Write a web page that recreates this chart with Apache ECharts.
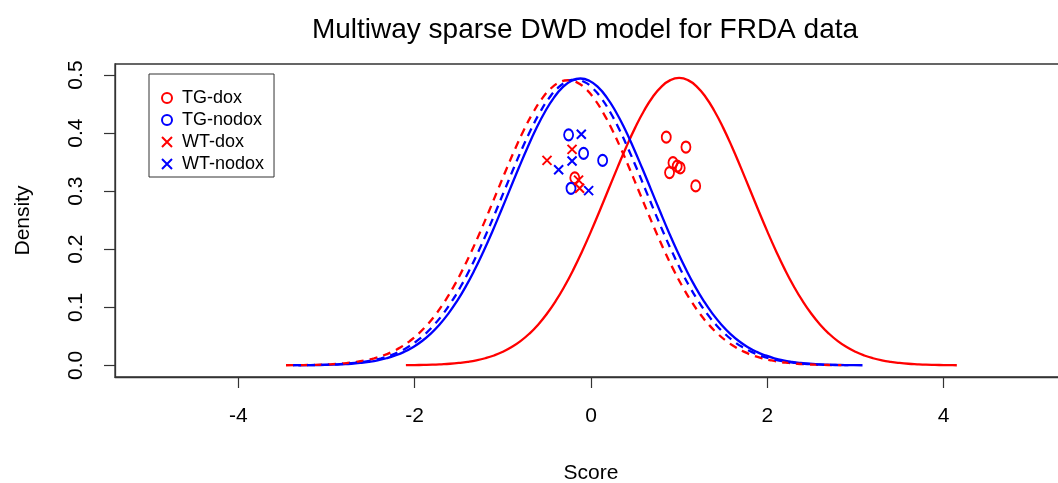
<!DOCTYPE html>
<html>
<head>
<meta charset="utf-8">
<style>
  html, body { margin: 0; padding: 0; background: #ffffff; }
  #chart { width: 1058px; height: 483px; }
</style>
<script src="https://cdn.jsdelivr.net/npm/echarts@6/dist/echarts.min.js"></script>
</head>
<body>
<div id="chart"></div>
<script>
// Fitted score densities, one curve per group
const tgDoxCurveX = [-2.1, -2.0, -1.9, -1.8, -1.7, -1.6, -1.5, -1.4, -1.3, -1.2, -1.1, -1.0, -0.9, -0.8, -0.7, -0.6,
  -0.5, -0.4, -0.3, -0.2, -0.1, 0.0, 0.1, 0.2, 0.3, 0.4, 0.5, 0.6, 0.7, 0.8, 0.9, 1.0, 1.1, 1.2, 1.3, 1.4, 1.5, 1.6,
  1.7, 1.8, 1.9, 2.0, 2.1, 2.2, 2.3, 2.4, 2.5, 2.6, 2.7, 2.8, 2.9, 3.0, 3.1, 3.2, 3.3, 3.4, 3.5, 3.6, 3.7, 3.8, 3.9,
  4.0, 4.1, 4.15];
const tgDoxCurveY = [0.0003, 0.0005, 0.0008, 0.0012, 0.0019, 0.0028, 0.0042, 0.0061, 0.0087, 0.0123, 0.0171, 0.0234,
  0.0315, 0.0417, 0.0545, 0.0701, 0.0889, 0.1109, 0.1363, 0.1649, 0.1966, 0.2307, 0.2667, 0.3037, 0.3405, 0.3761,
  0.4090, 0.4381, 0.4621, 0.4801, 0.4912, 0.4950, 0.4912, 0.4801, 0.4621, 0.4381, 0.4090, 0.3761, 0.3405, 0.3037,
  0.2667, 0.2307, 0.1966, 0.1649, 0.1363, 0.1109, 0.0889, 0.0701, 0.0545, 0.0417, 0.0315, 0.0234, 0.0171, 0.0123,
  0.0087, 0.0061, 0.0042, 0.0028, 0.0019, 0.0012, 0.0008, 0.0005, 0.0003, 0.0002];

const tgNodoxCurveX = [-3.32, -3.22, -3.12, -3.02, -2.92, -2.82, -2.72, -2.62, -2.52, -2.42, -2.32, -2.22, -2.12,
  -2.02, -1.92, -1.82, -1.72, -1.62, -1.52, -1.42, -1.32, -1.22, -1.12, -1.02, -0.92, -0.82, -0.72, -0.62, -0.52,
  -0.42, -0.32, -0.22, -0.12, -0.02, 0.08, 0.18, 0.28, 0.38, 0.48, 0.58, 0.68, 0.78, 0.88, 0.98, 1.08, 1.18, 1.28,
  1.38, 1.48, 1.58, 1.68, 1.78, 1.88, 1.98, 2.08, 2.18, 2.28, 2.38, 2.48, 2.58, 2.68, 2.78, 2.88, 2.98, 3.08];
const tgNodoxCurveY = [0.0002, 0.0003, 0.0005, 0.0008, 0.0012, 0.0019, 0.0028, 0.0042, 0.0061, 0.0087, 0.0123,
  0.0171, 0.0233, 0.0314, 0.0416, 0.0544, 0.0700, 0.0887, 0.1107, 0.1360, 0.1646, 0.1962, 0.2302, 0.2662, 0.3031,
  0.3398, 0.3753, 0.4082, 0.4372, 0.4612, 0.4791, 0.4902, 0.4940, 0.4902, 0.4791, 0.4612, 0.4372, 0.4082, 0.3753,
  0.3398, 0.3031, 0.2662, 0.2302, 0.1962, 0.1646, 0.1360, 0.1107, 0.0887, 0.0700, 0.0544, 0.0416, 0.0314, 0.0233,
  0.0171, 0.0123, 0.0087, 0.0061, 0.0042, 0.0028, 0.0019, 0.0012, 0.0008, 0.0005, 0.0003, 0.0002];

const wtDoxCurveX = [-3.46, -3.36, -3.26, -3.16, -3.06, -2.96, -2.86, -2.76, -2.66, -2.56, -2.46, -2.36, -2.26,
  -2.16, -2.06, -1.96, -1.86, -1.76, -1.66, -1.56, -1.46, -1.36, -1.26, -1.16, -1.06, -0.96, -0.86, -0.76, -0.66,
  -0.56, -0.46, -0.36, -0.26, -0.16, -0.06, 0.04, 0.14, 0.24, 0.34, 0.44, 0.54, 0.64, 0.74, 0.84, 0.94, 1.04, 1.14,
  1.24, 1.34, 1.44, 1.54, 1.64, 1.74, 1.84, 1.94, 2.04, 2.14, 2.24, 2.34, 2.44, 2.54, 2.64, 2.74, 2.84];
const wtDoxCurveY = [0.0002, 0.0003, 0.0005, 0.0008, 0.0012, 0.0019, 0.0028, 0.0042, 0.0060, 0.0087, 0.0122,
  0.0169, 0.0232, 0.0312, 0.0414, 0.0541, 0.0696, 0.0881, 0.1100, 0.1351, 0.1636, 0.1950, 0.2289, 0.2646, 0.3012,
  0.3378, 0.3730, 0.4057, 0.4345, 0.4584, 0.4762, 0.4873, 0.4910, 0.4873, 0.4762, 0.4584, 0.4345, 0.4057, 0.3730,
  0.3378, 0.3012, 0.2646, 0.2289, 0.1950, 0.1636, 0.1351, 0.1100, 0.0881, 0.0696, 0.0541, 0.0414, 0.0312, 0.0232,
  0.0169, 0.0122, 0.0087, 0.0060, 0.0042, 0.0028, 0.0019, 0.0012, 0.0008, 0.0005, 0.0003];

const wtNodoxCurveX = [-3.38, -3.28, -3.18, -3.08, -2.98, -2.88, -2.78, -2.68, -2.58, -2.48, -2.38, -2.28, -2.18,
  -2.08, -1.98, -1.88, -1.78, -1.68, -1.58, -1.48, -1.38, -1.28, -1.18, -1.08, -0.98, -0.88, -0.78, -0.68, -0.58,
  -0.48, -0.38, -0.28, -0.18, -0.08, 0.02, 0.12, 0.22, 0.32, 0.42, 0.52, 0.62, 0.72, 0.82, 0.92, 1.02, 1.12, 1.22,
  1.32, 1.42, 1.52, 1.62, 1.72, 1.82, 1.92, 2.02, 2.12, 2.22, 2.32, 2.42, 2.52, 2.62, 2.72, 2.82, 2.92];
const wtNodoxCurveY = [0.0002, 0.0003, 0.0005, 0.0008, 0.0012, 0.0019, 0.0028, 0.0042, 0.0061, 0.0087, 0.0122,
  0.0170, 0.0232, 0.0313, 0.0415, 0.0542, 0.0697, 0.0883, 0.1102, 0.1354, 0.1639, 0.1954, 0.2293, 0.2651, 0.3019,
  0.3385, 0.3738, 0.4065, 0.4354, 0.4593, 0.4772, 0.4883, 0.4920, 0.4883, 0.4772, 0.4593, 0.4354, 0.4065, 0.3738,
  0.3385, 0.3019, 0.2651, 0.2293, 0.1954, 0.1639, 0.1354, 0.1102, 0.0883, 0.0697, 0.0542, 0.0415, 0.0313, 0.0232,
  0.0170, 0.0122, 0.0087, 0.0061, 0.0042, 0.0028, 0.0019, 0.0012, 0.0008, 0.0005, 0.0003];

// Individual sample scores: [score, plotted height]
const tgDoxScores = [[0.854, 0.393], [1.077, 0.376], [0.930, 0.349], [0.978, 0.343], [1.012, 0.340],
  [0.891, 0.332], [1.188, 0.309], [-0.184, 0.323]];
const tgNodoxScores = [[-0.254, 0.397], [-0.084, 0.365], [0.132, 0.353], [-0.227, 0.305]];
const wtDoxScores = [[-0.499, 0.353], [-0.215, 0.372], [-0.141, 0.319], [-0.129, 0.305]];
const wtNodoxScores = [[-0.110, 0.398], [-0.367, 0.337], [-0.215, 0.352], [-0.027, 0.301]];

// Axis tick labels
const xTicks = [-4, -2, 0, 2, 4];
const yTicks = [0, 0.1, 0.2, 0.3, 0.4, 0.5];

const RED = '#ff0000';
const BLUE = '#0000ff';
const AXIS = '#333333';
const FONT = "'Liberation Sans', Arial, Helvetica, sans-serif";
const CROSS = 'path://M0,0L10,10M10,0L0,10';

function zip(xs, ys) {
  return xs.map((x, i) => [x, ys[i]]);
}

function curve(xs, ys, color, dashed) {
  return {
    type: 'line',
    data: zip(xs, ys),
    smooth: true,
    showSymbol: false,
    silent: true,
    lineStyle: { color: color, width: 2.3, type: dashed ? [8, 6] : 'solid' },
    z: 2
  };
}

function points(name, data, color, cross) {
  return {
    name: name,
    type: 'scatter',
    data: data,
    symbol: cross ? CROSS : 'circle',
    symbolSize: cross ? [9, 9] : [9, 11],
    symbolKeepAspect: false,
    itemStyle: { color: 'rgba(0,0,0,0)', borderColor: color, borderWidth: 2, opacity: 1 },
    z: 3
  };
}

const chart = echarts.init(document.getElementById('chart'), null, { renderer: 'canvas' });

chart.setOption({
  animation: false,
  backgroundColor: '#ffffff',
  textStyle: { fontFamily: FONT },
  title: {
    text: 'Multiway sparse DWD model for FRDA data',
    left: 580,
    top: 11,
    textAlign: 'center',
    textStyle: { fontFamily: FONT, fontSize: 28, fontWeight: 'normal', color: '#000000' }
  },
  legend: {
    orient: 'vertical',
    left: 149,
    top: 74,
    padding: [15, 10, 4, 12],
    itemGap: 4,
    itemWidth: 10,
    itemHeight: 10,
    borderColor: AXIS,
    borderWidth: 1,
    borderRadius: 0,
    textStyle: { fontFamily: FONT, fontSize: 18, color: '#000000', padding: [0, 0, 0, 5] },
    itemStyle: { opacity: 1 },
    data: [
      { name: 'TG-dox', icon: 'circle' },
      { name: 'TG-nodox', icon: 'circle' },
      { name: 'WT-dox', icon: CROSS },
      { name: 'WT-nodox', icon: CROSS }
    ]
  },
  grid: {
    left: 115,
    top: 64,
    width: 952,
    height: 313,
    outerBoundsMode: 'none',
    containLabel: false,
    show: true,
    borderColor: AXIS,
    borderWidth: 1.3,
    backgroundColor: 'transparent'
  },
  xAxis: {
    type: 'value',
    min: -5.4,
    max: 5.4,
    name: 'Score',
    nameLocation: 'middle',
    nameGap: 86,
    nameTextStyle: { fontFamily: FONT, fontSize: 21, color: '#000000' },
    splitLine: { show: false },
    axisLine: { show: true, onZero: false, lineStyle: { color: AXIS, width: 1.3 } },
    axisTick: { show: true, length: 11, lineStyle: { color: AXIS, width: 1.2 }, customValues: xTicks },
    axisLabel: {
      customValues: xTicks,
      margin: 29,
      fontFamily: FONT,
      fontSize: 21,
      color: '#000000',
      formatter: v => String(v)
    }
  },
  yAxis: {
    type: 'value',
    min: -0.02,
    max: 0.519,
    name: 'Density',
    nameLocation: 'middle',
    nameRotate: 90,
    nameGap: 81,
    nameTextStyle: { fontFamily: FONT, fontSize: 21, color: '#000000' },
    splitLine: { show: false },
    axisLine: { show: true, onZero: false, lineStyle: { color: AXIS, width: 1.3 } },
    axisTick: { show: true, length: 11, lineStyle: { color: AXIS, width: 1.2 }, customValues: yTicks },
    axisLabel: {
      customValues: yTicks,
      rotate: 90,
      margin: 28,
      fontFamily: FONT,
      fontSize: 21,
      color: '#000000',
      formatter: v => v.toFixed(1)
    }
  },
  series: [
    curve(tgDoxCurveX, tgDoxCurveY, RED, false),
    curve(tgNodoxCurveX, tgNodoxCurveY, BLUE, false),
    curve(wtDoxCurveX, wtDoxCurveY, RED, true),
    curve(wtNodoxCurveX, wtNodoxCurveY, BLUE, true),
    points('TG-dox', tgDoxScores, RED, false),
    points('TG-nodox', tgNodoxScores, BLUE, false),
    points('WT-dox', wtDoxScores, RED, true),
    points('WT-nodox', wtNodoxScores, BLUE, true)
  ]
});
</script>
</body>
</html>
